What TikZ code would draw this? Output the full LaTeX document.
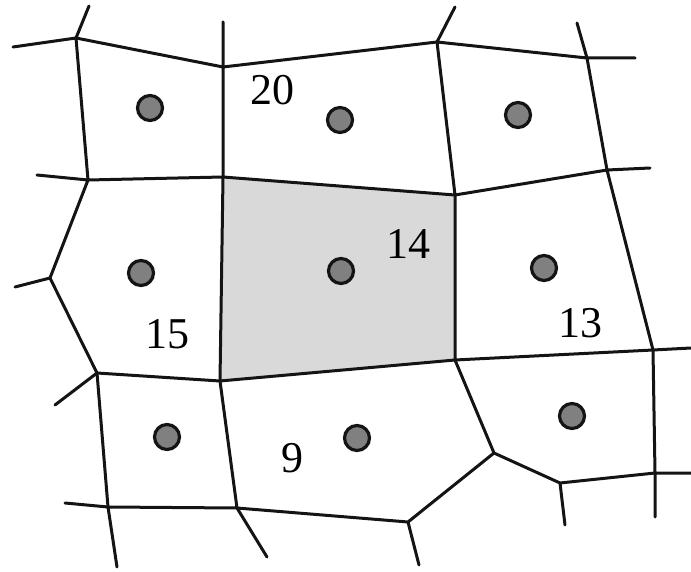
\documentclass[tikz,border=0pt]{standalone}
\usepackage{fontspec}
\setmainfont{Liberation Serif}
\definecolor{cellgray}{RGB}{217,217,217}
\definecolor{dotgray}{RGB}{128,128,128}
\definecolor{edgeblack}{RGB}{20,20,20}
\begin{document}
\begin{tikzpicture}[x=1pt,y=-1pt,
  edge/.style={draw=edgeblack,line width=3pt,line cap=round,line join=round},
  seed/.style={circle,draw=edgeblack,fill=dotgray,line width=3.2pt,minimum size=25pt,inner sep=0pt},
  lbl/.style={font=\fontsize{44}{44}\selectfont,inner sep=0pt}]
\useasboundingbox (0,0) rectangle (691,572);
% vertices
\coordinate (A) at (76,38);
\coordinate (B) at (223,67);
\coordinate (C) at (88,180);
\coordinate (D) at (223,177);
\coordinate (E) at (455,195);
\coordinate (F) at (437,42);
\coordinate (G) at (587,58);
\coordinate (H) at (607,170);
\coordinate (I) at (653,350);
\coordinate (J) at (455,360);
\coordinate (K) at (220,381);
\coordinate (L) at (50,278);
\coordinate (M) at (97,373);
\coordinate (N) at (108,507);
\coordinate (O) at (237,508);
\coordinate (P) at (408,522);
\coordinate (Q) at (494,453);
\coordinate (R) at (560,483);
\coordinate (S) at (655,473);
% free ends
\coordinate (a1) at (89,6);
\coordinate (a2) at (13,47);
\coordinate (b1) at (223,22);
\coordinate (c1) at (37,175);
\coordinate (f1) at (455,7);
\coordinate (g1) at (577,23);
\coordinate (g2) at (635,58);
\coordinate (h1) at (650,168);
\coordinate (i1) at (691,348);
\coordinate (l1) at (15,287);
\coordinate (m1) at (55,405);
\coordinate (n1) at (117,567);
\coordinate (n2) at (65,503);
\coordinate (o1) at (267,557);
\coordinate (p1) at (419,565);
\coordinate (r1) at (565,525);
\coordinate (s1) at (691,473);
\coordinate (s2) at (655,517);
% shaded cell
\fill[cellgray] (D) -- (E) -- (J) -- (K) -- cycle;
% edges
\draw[edge] (A) -- (a1) (A) -- (a2) (A) -- (B) (A) -- (C);
\draw[edge] (B) -- (b1) (B) -- (D) (B) -- (F);
\draw[edge] (C) -- (c1) (C) -- (D) (C) -- (L);
\draw[edge] (D) -- (E) (D) -- (K);
\draw[edge] (F) -- (f1) (F) -- (G) (F) -- (E);
\draw[edge] (G) -- (g1) (G) -- (g2) (G) -- (H);
\draw[edge] (E) -- (H) (H) -- (h1) (H) -- (I);
\draw[edge] (I) -- (i1) (E) -- (J) (J) -- (I) (J) -- (K);
\draw[edge] (L) -- (l1) (L) -- (M) (M) -- (K) (M) -- (m1) (M) -- (N);
\draw[edge] (N) -- (n1) (N) -- (n2) (K) -- (O) (O) -- (o1) (N) -- (O);
\draw[edge] (O) -- (P) (P) -- (p1) (P) -- (Q) (Q) -- (J);
\draw[edge] (Q) -- (R) (R) -- (r1) (R) -- (S) (S) -- (s1) (S) -- (I) (S) -- (s2);
% seeds
\node[seed] (s20a) at (150,108) {};
\node[seed] (s20) at (340,120) {};
\node[seed] (s20b) at (518,115) {};
\node[seed] (s15) at (141,273) {};
\node[seed] (s14) at (341,271) {};
\node[seed] (s13) at (544,268) {};
\node[seed] (s9a) at (167,437) {};
\node[seed] (s9) at (357,438) {};
\node[seed] (s13b) at (572,416) {};
% labels
\node[lbl] (t20) at (272,90) {20};
\node[lbl] (t14) at (408,244) {14};
\node[lbl] (t15) at (167,334) {15};
\node[lbl] (t9) at (292,458) {9};
\node[lbl] (t13) at (580,323) {13};
\end{tikzpicture}
\end{document}
